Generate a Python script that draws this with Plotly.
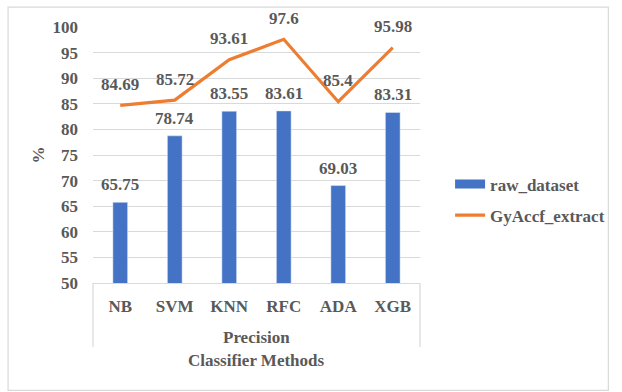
import plotly.graph_objects as go

# Classifier precision scores (%)
methods = ["NB", "SVM", "KNN", "RFC", "ADA", "XGB"]
raw_dataset = [65.75, 78.74, 83.55, 83.61, 69.03, 83.31]
gyaccf_extract = [84.69, 85.72, 93.61, 97.6, 85.4, 95.98]
y_ticks = [50, 55, 60, 65, 70, 75, 80, 85, 90, 95, 100]

BLUE = "#4472C4"
ORANGE = "#ED7D31"
TEXT = "#595959"
GRID = "#D9D9D9"
FAMILY = "Liberation Serif"


def font(size=17):
    return dict(family=FAMILY, size=size, color=TEXT)


def b(s):
    return f"<b>{s}</b>"


fig = go.Figure()

fig.add_trace(go.Bar(
    x=methods, y=raw_dataset, width=0.27, marker_color=BLUE,
    showlegend=False, name="raw_dataset",
))
fig.add_trace(go.Scatter(
    x=methods, y=gyaccf_extract, mode="lines",
    line=dict(color=ORANGE, width=3.2), showlegend=False, name="GyAccf_extract",
))

# legend entries (wide flat swatch for the bars, line swatch for the series)
fig.add_trace(go.Scatter(
    x=[None], y=[None], mode="lines", name=b("raw_dataset"),
    line=dict(color=BLUE, width=9), legendgroup="a",
))
fig.add_trace(go.Scatter(
    x=[None], y=[None], mode="lines", name=b("GyAccf_extract"),
    line=dict(color=ORANGE, width=3.2), legendgroup="b",
))

annotations = []
for m, v in zip(methods, raw_dataset):
    annotations.append(dict(x=m, y=v, text=b(v), showarrow=False,
                            yshift=17.5, font=font()))
for m, v in zip(methods, gyaccf_extract):
    annotations.append(dict(x=m, y=v, text=b(v), showarrow=False,
                            yshift=21, font=font()))

annotations += [
    dict(xref="paper", yref="paper", x=0.5, y=-0.211, text=b("Precision"),
         xanchor="center", yanchor="middle", showarrow=False, font=font()),
    dict(xref="paper", yref="paper", x=0.5, y=-0.301, text=b("Classifier Methods"),
         xanchor="center", yanchor="middle", showarrow=False, font=font()),
    dict(xref="paper", yref="paper", x=-0.167, y=0.5, text=b("%"), textangle=-90,
         xanchor="center", yanchor="middle", showarrow=False, font=font()),
]

shapes = [
    # chart frame
    dict(type="rect", xref="paper", yref="paper", x0=-0.2597, x1=1.576,
         y0=-0.4196, y1=1.078, line=dict(color=GRID, width=1.2), layer="below"),
    # category group dividers
    dict(type="line", xref="paper", yref="paper", x0=0, x1=0, y0=0, y1=-0.25,
         line=dict(color=GRID, width=1.2)),
    dict(type="line", xref="paper", yref="paper", x0=1, x1=1, y0=0, y1=-0.25,
         line=dict(color=GRID, width=1.2)),
]

fig.update_layout(
    width=622, height=392,
    margin=dict(l=93, r=194, t=27, b=109),
    paper_bgcolor="white", plot_bgcolor="white",
    font=font(),
    xaxis=dict(
        type="category", showgrid=False, showline=True, linecolor=GRID,
        linewidth=1.2, ticks="", ticklabelstandoff=7, tickfont=font(),
        tickvals=methods, ticktext=[b(m) for m in methods],
    ),
    yaxis=dict(
        range=[50, 100], tickvals=y_ticks, ticktext=[b(t) for t in y_ticks],
        showgrid=True, gridcolor=GRID,
        gridwidth=1.2, zeroline=False, showline=False, ticks="",
        ticklabelstandoff=14, tickfont=font(),
    ),
    legend=dict(
        x=1.092, y=0.324, xanchor="left", yanchor="middle",
        font=font(), traceorder="grouped",
        tracegroupgap=6, bgcolor="rgba(0,0,0,0)",
    ),
    annotations=annotations,
    shapes=shapes,
)

fig.write_html("out.html")
